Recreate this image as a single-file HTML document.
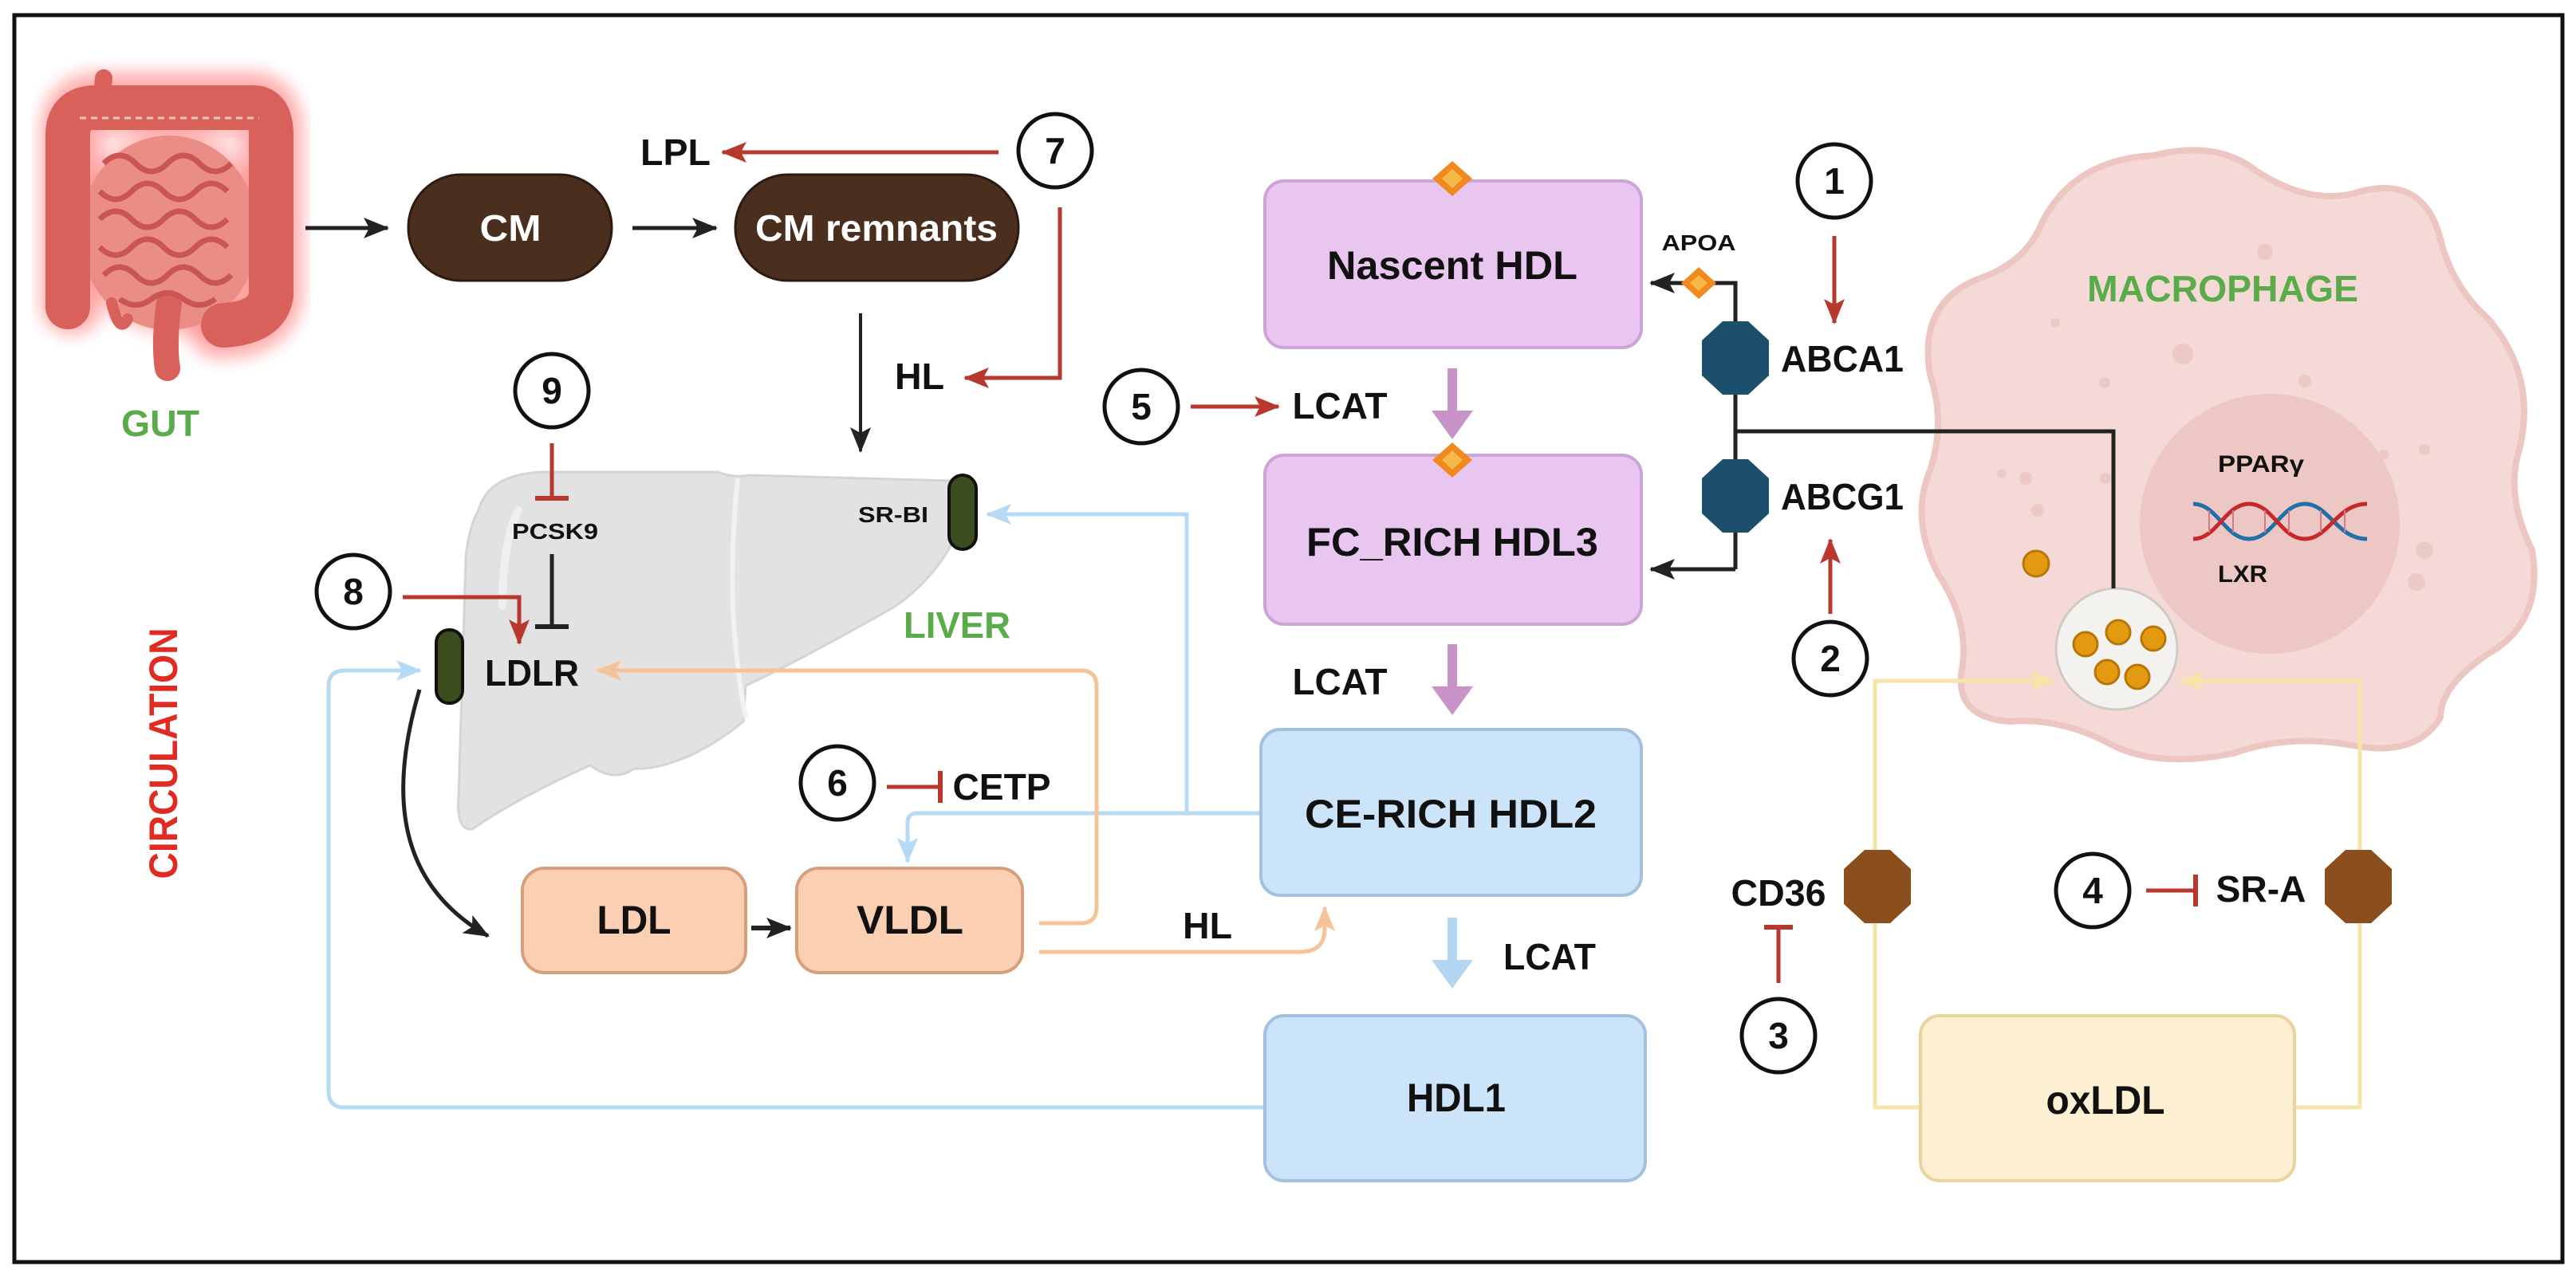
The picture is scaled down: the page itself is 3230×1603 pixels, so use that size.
<!DOCTYPE html>
<html><head><meta charset="utf-8"><style>
html,body{margin:0;padding:0;background:#fff;}
svg{display:block;}
text{font-family:"Liberation Sans",sans-serif;font-weight:bold;fill:#111;}
</style></head><body>
<svg width="3230" height="1603" viewBox="0 0 3230 1603" xmlns="http://www.w3.org/2000/svg">
<defs>
<marker id="mk" markerUnits="userSpaceOnUse" markerWidth="34" markerHeight="30" refX="30" refY="15" orient="auto"><path d="M0,2 L32,15 L0,28 L7,15 Z" fill="#222"/></marker>
<marker id="mr" markerUnits="userSpaceOnUse" markerWidth="34" markerHeight="30" refX="30" refY="15" orient="auto"><path d="M0,2 L32,15 L0,28 L7,15 Z" fill="#b8382e"/></marker>
<marker id="mb" markerUnits="userSpaceOnUse" markerWidth="34" markerHeight="30" refX="30" refY="15" orient="auto"><path d="M0,2 L32,15 L0,28 L7,15 Z" fill="#b7daf4"/></marker>
<marker id="mo" markerUnits="userSpaceOnUse" markerWidth="34" markerHeight="30" refX="30" refY="15" orient="auto"><path d="M0,2 L32,15 L0,28 L7,15 Z" fill="#f4c39a"/></marker>
<marker id="my" markerUnits="userSpaceOnUse" markerWidth="34" markerHeight="30" refX="30" refY="15" orient="auto"><path d="M0,2 L32,15 L0,28 L7,15 Z" fill="#f6e4a8"/></marker>
<filter id="glow" x="-20%" y="-20%" width="140%" height="140%"><feGaussianBlur stdDeviation="10"/></filter>
</defs>

<rect x="18" y="19" width="3195" height="1564" fill="#fff" stroke="#111" stroke-width="5"/>

<!-- GUT -->
<g>
<path d="M90,380 L90,165 Q90,130 125,130 L315,130 Q340,130 340,165 L340,370 Q335,410 275,410" fill="none" stroke="#ff5050" stroke-width="80" stroke-linecap="round" opacity="0.45" filter="url(#glow)"/>
<ellipse cx="215" cy="290" rx="120" ry="130" fill="#ff6060" opacity="0.4" filter="url(#glow)"/>
<path d="M125,150 L130,98" stroke="#d9625c" stroke-width="22" stroke-linecap="round"/>
<ellipse cx="212" cy="292" rx="112" ry="122" fill="#e98d86"/>
<path d="M85,385 L85,170 Q85,135 120,135 L318,135 Q340,135 340,170 L340,370 Q335,405 280,408" fill="none" stroke="#d8625b" stroke-width="56" stroke-linecap="round"/>
<path d="M212,380 Q205,430 210,462" stroke="#d8625b" stroke-width="32" stroke-linecap="round" fill="none"/>
<path d="M140,380 Q150,420 160,400" stroke="#d8625b" stroke-width="14" stroke-linecap="round" fill="none"/>
<path d="M130,205 q20,-20 40,0 t40,0 t40,0 t40,0 M125,240 q20,20 40,0 t40,0 t40,0 t40,0 M125,275 q20,-20 40,0 t40,0 t40,0 t40,0 M125,310 q20,20 40,0 t40,0 t40,0 t40,0 M130,345 q20,-20 40,0 t40,0 t40,0 t40,0 M150,375 q20,15 40,0 t40,0 t40,0" fill="none" stroke="#c95650" stroke-width="7"/>
<path d="M100,148 L325,148" stroke="#f3c4c0" stroke-width="3" stroke-dasharray="8 6" fill="none"/>
</g>
<text x="201" y="547" font-size="46" text-anchor="middle" style="fill:#5aab4a" textLength="98" lengthAdjust="spacingAndGlyphs">GUT</text>

<!-- CM row -->
<line x1="383" y1="286" x2="486" y2="286" stroke="#222" stroke-width="5" marker-end="url(#mk)"/>
<rect x="512" y="219" width="255" height="133" rx="66" fill="#4a2e1e" stroke="#2d1a10" stroke-width="3"/>
<text x="640" y="302" font-size="46" text-anchor="middle" style="fill:#fff" textLength="77" lengthAdjust="spacingAndGlyphs">CM</text>
<line x1="793" y1="286" x2="898" y2="286" stroke="#222" stroke-width="5" marker-end="url(#mk)"/>
<rect x="922" y="219" width="355" height="133" rx="66" fill="#4a2e1e" stroke="#2d1a10" stroke-width="3"/>
<text x="1099" y="302" font-size="46" text-anchor="middle" style="fill:#fff" textLength="304" lengthAdjust="spacingAndGlyphs">CM remnants</text>

<text x="847" y="207" font-size="46" text-anchor="middle" textLength="88" lengthAdjust="spacingAndGlyphs">LPL</text>
<line x1="1252" y1="191" x2="906" y2="191" stroke="#b8382e" stroke-width="5" marker-end="url(#mr)"/>
<circle cx="1323" cy="189" r="46" fill="#fff" stroke="#111" stroke-width="5"/>
<text x="1323" y="205" font-size="46" text-anchor="middle">7</text>
<polyline points="1329,260 1329,474 1210,474" fill="none" stroke="#b8382e" stroke-width="5" marker-end="url(#mr)"/>
<text x="1153" y="488" font-size="46" text-anchor="middle" textLength="62" lengthAdjust="spacingAndGlyphs">HL</text>
<line x1="1079" y1="393" x2="1079" y2="566" stroke="#222" stroke-width="4" marker-end="url(#mk)"/>

<!-- LIVER -->
<path d="M600,640 Q612,595 680,592 L900,592 Q920,600 940,596 L1190,603 Q1218,612 1206,655 Q1180,722 1120,762 Q1000,830 935,860 L932,905 Q900,932 860,950 Q820,966 795,964 Q770,982 740,960 Q650,1000 592,1040 Q572,1042 575,1000 L584,700 Q588,660 600,640 Z" fill="#e2e2e2" stroke="#d4d4d4" stroke-width="3"/>
<path d="M925,600 Q915,700 920,780 Q925,850 935,900" fill="none" stroke="#f2f2f2" stroke-width="6"/>
<path d="M650,640 Q630,680 630,760" fill="none" stroke="#efefef" stroke-width="10" stroke-linecap="round"/>
<text x="1120" y="655" font-size="28" text-anchor="middle" textLength="88" lengthAdjust="spacingAndGlyphs">SR-BI</text>
<rect x="1190" y="596" width="34" height="93" rx="17" fill="#3c4d1d" stroke="#111" stroke-width="4"/>
<text x="1200" y="800" font-size="46" text-anchor="middle" style="fill:#5aab4a" textLength="134" lengthAdjust="spacingAndGlyphs">LIVER</text>

<circle cx="692" cy="490" r="46" fill="#fff" stroke="#111" stroke-width="5"/>
<text x="692" y="506" font-size="46" text-anchor="middle">9</text>
<line x1="692" y1="556" x2="692" y2="625" stroke="#b8382e" stroke-width="5"/>
<line x1="671" y1="625" x2="713" y2="625" stroke="#b8382e" stroke-width="6"/>
<text x="696" y="676" font-size="28" text-anchor="middle" textLength="108" lengthAdjust="spacingAndGlyphs">PCSK9</text>
<line x1="692" y1="695" x2="692" y2="786" stroke="#222" stroke-width="5"/>
<line x1="671" y1="786" x2="713" y2="786" stroke="#222" stroke-width="6"/>

<circle cx="443" cy="742" r="46" fill="#fff" stroke="#111" stroke-width="5"/>
<text x="443" y="758" font-size="46" text-anchor="middle">8</text>
<polyline points="505,749 651,749 651,807" fill="none" stroke="#b8382e" stroke-width="5" marker-end="url(#mr)"/>

<rect x="547" y="790" width="33" height="92" rx="16" fill="#3c4d1d" stroke="#111" stroke-width="4"/>
<text x="667" y="860" font-size="46" text-anchor="middle" textLength="118" lengthAdjust="spacingAndGlyphs">LDLR</text>

<text transform="translate(222,945) rotate(-90)" font-size="50" text-anchor="middle" style="fill:#e02a22" textLength="315" lengthAdjust="spacingAndGlyphs">CIRCULATION</text>

<path d="M1586,1389 L432,1389 Q412,1389 412,1369 L412,861 Q412,841 432,841 L527,841" fill="none" stroke="#b7daf4" stroke-width="5" marker-end="url(#mb)"/>
<path d="M1581,1020 L1488,1020 L1488,645 L1238,645" fill="none" stroke="#b7daf4" stroke-width="5" marker-end="url(#mb)"/>
<path d="M1488,1020 L1150,1020 Q1138,1020 1138,1032 L1138,1081" fill="none" stroke="#b7daf4" stroke-width="5" marker-end="url(#mb)"/>

<path d="M1303,1158 L1355,1158 Q1375,1158 1375,1138 L1375,861 Q1375,841 1355,841 L749,841" fill="none" stroke="#f4c39a" stroke-width="5" marker-end="url(#mo)"/>
<path d="M1303,1194 L1630,1194 Q1661,1194 1661,1165 L1661,1138" fill="none" stroke="#f4c39a" stroke-width="5" marker-end="url(#mo)"/>
<text x="1514" y="1177" font-size="46" text-anchor="middle" textLength="62" lengthAdjust="spacingAndGlyphs">HL</text>

<path d="M526,865 C486,1000 500,1110 612,1174" fill="none" stroke="#222" stroke-width="5" marker-end="url(#mk)"/>

<circle cx="1050" cy="982" r="46" fill="#fff" stroke="#111" stroke-width="5"/>
<text x="1050" y="998" font-size="46" text-anchor="middle">6</text>
<line x1="1112" y1="987" x2="1179" y2="987" stroke="#b8382e" stroke-width="5"/>
<line x1="1179" y1="967" x2="1179" y2="1007" stroke="#b8382e" stroke-width="6"/>
<text x="1256" y="1003" font-size="46" text-anchor="middle" textLength="123" lengthAdjust="spacingAndGlyphs">CETP</text>

<rect x="655" y="1089" width="280" height="131" rx="28" fill="#fbcfb1" stroke="#d7a07c" stroke-width="4"/>
<text x="795" y="1171" font-size="50" text-anchor="middle" textLength="93" lengthAdjust="spacingAndGlyphs">LDL</text>
<line x1="942" y1="1164" x2="991" y2="1164" stroke="#222" stroke-width="6" marker-end="url(#mk)"/>
<rect x="999" y="1089" width="283" height="131" rx="28" fill="#fbcfb1" stroke="#d7a07c" stroke-width="4"/>
<text x="1141" y="1171" font-size="50" text-anchor="middle" textLength="134" lengthAdjust="spacingAndGlyphs">VLDL</text>

<rect x="1586" y="227" width="472" height="209" rx="24" fill="#e8c6ef" stroke="#cda3d8" stroke-width="4"/>
<text x="1821" y="350" font-size="50" text-anchor="middle" textLength="314" lengthAdjust="spacingAndGlyphs">Nascent HDL</text>
<rect x="1586" y="571" width="472" height="212" rx="24" fill="#e8c6ef" stroke="#cda3d8" stroke-width="4"/>
<text x="1821" y="697" font-size="50" text-anchor="middle" textLength="366" lengthAdjust="spacingAndGlyphs">FC_RICH HDL3</text>
<rect x="1581" y="915" width="477" height="208" rx="24" fill="#cce4fa" stroke="#a3c1de" stroke-width="4"/>
<text x="1819" y="1038" font-size="50" text-anchor="middle" textLength="366" lengthAdjust="spacingAndGlyphs">CE-RICH HDL2</text>
<rect x="1586" y="1274" width="477" height="207" rx="24" fill="#cce4fa" stroke="#a3c1de" stroke-width="4"/>
<text x="1826" y="1394" font-size="50" text-anchor="middle" textLength="124" lengthAdjust="spacingAndGlyphs">HDL1</text>

<path d="M1815,462 L1827,462 L1827,515 L1847,515 L1821,551 L1795,515 L1815,515 Z" fill="#c893c9"/>
<path d="M1815,808 L1827,808 L1827,861 L1847,861 L1821,897 L1795,861 L1815,861 Z" fill="#c893c9"/>
<path d="M1815,1151 L1827,1151 L1827,1204 L1847,1204 L1821,1240 L1795,1204 L1815,1204 Z" fill="#b3d7f2"/>

<g fill="#f08a1e"><path d="M1821,202 L1846,224 L1821,246 L1796,224 Z"/><path d="M1821,555 L1846,577 L1821,599 L1796,577 Z"/></g>
<g fill="#f7b84a"><path d="M1821,212 L1834,224 L1821,236 L1808,224 Z"/><path d="M1821,565 L1834,577 L1821,589 L1808,577 Z"/></g>

<circle cx="1431" cy="510" r="46" fill="#fff" stroke="#111" stroke-width="5"/>
<text x="1431" y="526" font-size="46" text-anchor="middle">5</text>
<line x1="1493" y1="510" x2="1603" y2="510" stroke="#b8382e" stroke-width="5" marker-end="url(#mr)"/>
<text x="1680" y="525" font-size="46" text-anchor="middle" textLength="119" lengthAdjust="spacingAndGlyphs">LCAT</text>
<text x="1680" y="871" font-size="46" text-anchor="middle" textLength="119" lengthAdjust="spacingAndGlyphs">LCAT</text>
<text x="1943" y="1216" font-size="46" text-anchor="middle" textLength="116" lengthAdjust="spacingAndGlyphs">LCAT</text>

<!-- MACROPHAGE -->
<path d="M2700,195 Q2780,175 2830,215 Q2900,260 2960,240 Q3040,220 3060,300 Q3075,360 3120,400 Q3180,470 3160,560 Q3140,620 3175,690 Q3190,780 3120,820 Q3060,860 3060,900 Q3030,950 2950,935 Q2870,920 2800,945 Q2700,965 2640,930 Q2580,900 2520,905 Q2450,900 2460,840 Q2470,780 2430,720 Q2395,650 2420,590 Q2440,530 2420,470 Q2405,380 2480,350 Q2540,330 2560,280 Q2600,200 2700,195 Z" fill="#f5d9d6" stroke="#edc6c2" stroke-width="8"/>
<g fill="#ecc9c6"><circle cx="2840" cy="316" r="10"/><circle cx="2737" cy="444" r="13"/><circle cx="2890" cy="478" r="8"/><circle cx="2639" cy="480" r="7"/><circle cx="2540" cy="600" r="8"/><circle cx="2640" cy="600" r="7"/><circle cx="2989" cy="570" r="6"/><circle cx="3040" cy="564" r="7"/><circle cx="3040" cy="690" r="11"/><circle cx="2510" cy="594" r="6"/><circle cx="2900" cy="350" r="6"/><circle cx="2577" cy="405" r="6"/><circle cx="2555" cy="640" r="8"/><circle cx="3030" cy="730" r="11"/></g>
<text x="2787" y="378" font-size="46" text-anchor="middle" style="fill:#5aab4a" textLength="340" lengthAdjust="spacingAndGlyphs">MACROPHAGE</text>
<circle cx="2846" cy="657" r="163" fill="#ecc7c4"/>
<text x="2835" y="592" font-size="30" text-anchor="middle" textLength="108" lengthAdjust="spacingAndGlyphs">PPARγ</text>
<text x="2812" y="730" font-size="30" text-anchor="middle" textLength="62" lengthAdjust="spacingAndGlyphs">LXR</text>
<g fill="none" stroke-width="5">
<path d="M2750,632 C2780,632 2790,676 2820,676 C2850,676 2860,632 2890,632 C2920,632 2930,676 2968,676" stroke="#1f6fa8"/>
<path d="M2750,676 C2780,676 2790,632 2820,632 C2850,632 2860,676 2890,676 C2920,676 2930,632 2968,632" stroke="#c8282a"/>
</g>
<g stroke="#d47a8a" stroke-width="2"><line x1="2770" y1="640" x2="2770" y2="668"/><line x1="2800" y1="640" x2="2800" y2="668"/><line x1="2840" y1="640" x2="2840" y2="668"/><line x1="2870" y1="640" x2="2870" y2="668"/><line x1="2910" y1="640" x2="2910" y2="668"/><line x1="2940" y1="640" x2="2940" y2="668"/></g>
<circle cx="2553" cy="707" r="16" fill="#e49a10" stroke="#b87608" stroke-width="3"/>
<circle cx="2654" cy="814" r="76" fill="#f3f2ee" stroke="#cfcac4" stroke-width="3"/>
<g fill="#e49a10" stroke="#b87608" stroke-width="3"><circle cx="2615" cy="808" r="15"/><circle cx="2656" cy="793" r="15"/><circle cx="2700" cy="801" r="15"/><circle cx="2642" cy="843" r="15"/><circle cx="2680" cy="849" r="15"/></g>

<polyline points="2176,714 2176,355 2070,355" fill="none" stroke="#222" stroke-width="5" marker-end="url(#mk)"/>
<polyline points="2176,714 2070,714" fill="none" stroke="#222" stroke-width="5" marker-end="url(#mk)"/>
<polyline points="2176,541 2650,541 2650,738" fill="none" stroke="#222" stroke-width="5"/>
<path d="M2130,335 L2152,355 L2130,375 L2108,355 Z" fill="#f08a1e"/>
<path d="M2130,345 L2141,355 L2130,365 L2119,355 Z" fill="#f7b84a"/>
<text x="2130" y="314" font-size="28" text-anchor="middle" textLength="93" lengthAdjust="spacingAndGlyphs">APOA</text>
<polygon points="2160,403 2192,403 2218,427 2218,471 2192,495 2160,495 2134,471 2134,427" fill="#1b4f6b"/>
<polygon points="2160,576 2192,576 2218,600 2218,644 2192,668 2160,668 2134,644 2134,600" fill="#1b4f6b"/>
<text x="2310" y="466" font-size="46" text-anchor="middle" textLength="154" lengthAdjust="spacingAndGlyphs">ABCA1</text>
<text x="2310" y="639" font-size="46" text-anchor="middle" textLength="154" lengthAdjust="spacingAndGlyphs">ABCG1</text>
<circle cx="2300" cy="227" r="46" fill="#fff" stroke="#111" stroke-width="5"/>
<text x="2300" y="243" font-size="46" text-anchor="middle">1</text>
<line x1="2300" y1="296" x2="2300" y2="405" stroke="#b8382e" stroke-width="5" marker-end="url(#mr)"/>
<circle cx="2295" cy="826" r="46" fill="#fff" stroke="#111" stroke-width="5"/>
<text x="2295" y="842" font-size="46" text-anchor="middle">2</text>
<line x1="2295" y1="770" x2="2295" y2="677" stroke="#b8382e" stroke-width="5" marker-end="url(#mr)"/>

<polyline points="2408,1389 2351,1389 2351,854 2575,854" fill="none" stroke="#f6e4a8" stroke-width="5" marker-end="url(#my)"/>
<polyline points="2877,1389 2959,1389 2959,854 2733,854" fill="none" stroke="#f6e4a8" stroke-width="5" marker-end="url(#my)"/>
<rect x="2408" y="1274" width="469" height="207" rx="24" fill="#fdf0d2" stroke="#e9d59c" stroke-width="4"/>
<text x="2640" y="1397" font-size="50" text-anchor="middle" textLength="149" lengthAdjust="spacingAndGlyphs">oxLDL</text>
<polygon points="2338,1066 2370,1066 2396,1090 2396,1134 2370,1158 2338,1158 2312,1134 2312,1090" fill="#8b4f1e"/>
<polygon points="2941,1066 2973,1066 2999,1090 2999,1134 2973,1158 2941,1158 2915,1134 2915,1090" fill="#8b4f1e"/>
<text x="2230" y="1136" font-size="46" text-anchor="middle" textLength="119" lengthAdjust="spacingAndGlyphs">CD36</text>
<text x="2835" y="1131" font-size="46" text-anchor="middle" textLength="113" lengthAdjust="spacingAndGlyphs">SR-A</text>
<circle cx="2624" cy="1117" r="46" fill="#fff" stroke="#111" stroke-width="5"/>
<text x="2624" y="1133" font-size="46" text-anchor="middle">4</text>
<line x1="2691" y1="1117" x2="2753" y2="1117" stroke="#b8382e" stroke-width="5"/>
<line x1="2753" y1="1097" x2="2753" y2="1137" stroke="#b8382e" stroke-width="6"/>
<circle cx="2230" cy="1299" r="46" fill="#fff" stroke="#111" stroke-width="5"/>
<text x="2230" y="1315" font-size="46" text-anchor="middle">3</text>
<line x1="2230" y1="1233" x2="2230" y2="1163" stroke="#b8382e" stroke-width="5"/>
<line x1="2212" y1="1163" x2="2248" y2="1163" stroke="#b8382e" stroke-width="6"/>
</svg>
</body></html>
